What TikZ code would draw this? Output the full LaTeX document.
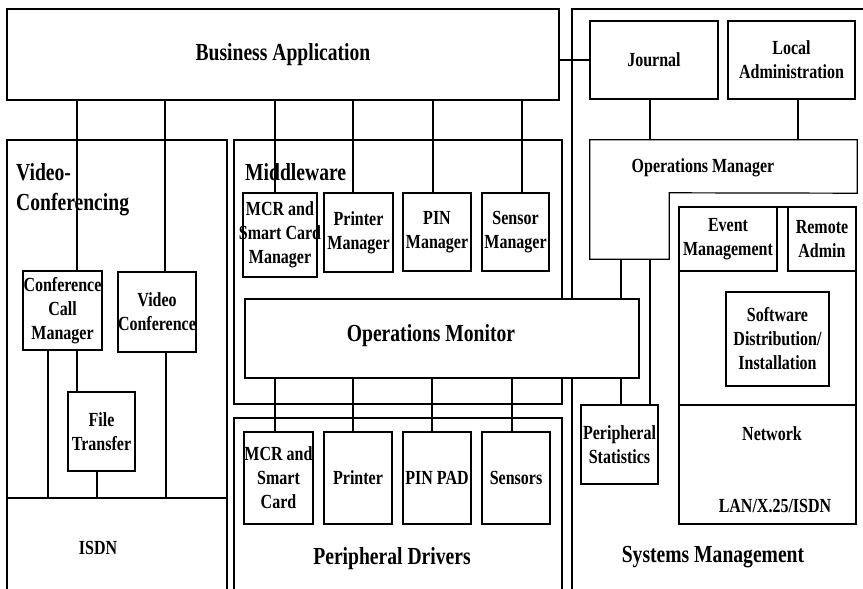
\documentclass[tikz,border=0pt]{standalone}
\usepackage{fontspec}
\newfontfamily\lblfont{Liberation Serif}[FakeStretch=0.8]
\newcommand\txtsm{\lblfont\bfseries\fontsize{20}{24}\selectfont}
\newcommand\txtbig{\lblfont\bfseries\fontsize{24.5}{30}\selectfont}
\tikzset{
  box/.style={draw, line width=1.2pt, fill=white, align=center,
    inner xsep=-5pt, inner ysep=0pt, font=\txtsm},
  frame/.style={line width=1.6pt},
  wire/.style={line width=1.1pt},
  biglbl/.style={font=\txtbig, inner sep=0pt, align=left},
  smlbl/.style={font=\txtsm, inner sep=0pt, align=center},
}
\begin{document}
\begin{tikzpicture}[x=1pt,y=-1pt]
\useasboundingbox (0,0) rectangle (863,589);

% connector lanes
\foreach \n in {48,77,97,165,166,275,353,432,433,512,522,621,650,798}
  \coordinate (x\n) at (\n,0);
\coordinate (netdiv) at (0,405);

% open-bottom outer frames
\draw[frame] (7,589) |- (227,140) -- (227,589);
\draw[frame] (234,589) |- (562,418) -- (562,589);
\draw[frame] (572,589) |- (863,9);

% ---- Business application
\node[box, line width=1.5pt, font=\txtbig, minimum width=552pt, minimum height=91pt] (ba) at (283,54.5) {Business Application};

% ---- Video conferencing
\node[biglbl, anchor=base west] (vclbl) at (16,180) {Video-};
\node[biglbl, anchor=base west] (vclbl2) at (16,210) {Conferencing};
\coordinate (isdnW) at (7,498);
\coordinate (isdnE) at (227,498);
\draw[wire] (isdnW) -- (isdnE);
\node[smlbl] (isdn) at (98,548) {ISDN};
\node[box, minimum width=79pt, minimum height=79pt] (ccm) at (62.5,310.5) {Conference\\Call\\Manager};
\node[box, minimum width=78pt, minimum height=80pt] (vconf) at (157,312) {Video\\Conference};
\node[box, minimum width=67pt, minimum height=79pt] (ftr) at (101.5,431.5) {File\\Transfer};

% ---- Middleware
\node[draw, frame, minimum width=328pt, minimum height=264pt, inner sep=0pt] (mw) at (398,272) {};
\node[biglbl, anchor=base west] (mwlbl) at (245,180) {Middleware};
\node[box, minimum width=74pt, minimum height=84pt] (mcrm) at (280,235) {MCR and\\Smart Card\\Manager};
\node[box, minimum width=69pt, minimum height=79pt] (prm) at (358.5,232.5) {Printer\\Manager};
\node[box, minimum width=68pt, minimum height=78pt] (pinm) at (437,232) {PIN\\Manager};
\node[box, minimum width=67pt, minimum height=78pt] (senm) at (515.5,232) {Sensor\\Manager};

% ---- Peripheral drivers
\node[biglbl] (pdlbl) at (392,559) {Peripheral Drivers};
\node[box, minimum width=69pt, minimum height=92pt] (mcr) at (278.5,478) {MCR and\\Smart\\Card};
\node[box, minimum width=68pt, minimum height=92pt] (prn) at (358,478) {Printer};
\node[box, minimum width=68pt, minimum height=92pt] (pinpad) at (437,478) {PIN PAD};
\node[box, minimum width=68pt, minimum height=92pt] (sens) at (516,478) {Sensors};

% ---- Systems management
\node[box, minimum width=128pt, minimum height=78pt] (jrn) at (654,60) {Journal};
\node[box, minimum width=127pt, minimum height=78pt] (ladm) at (791.5,60) {Local\\Administration};
\node[inner sep=0pt, minimum width=267pt, minimum height=53pt] (omtop) at (723.5,166.5) {};
\node[inner sep=0pt, minimum width=79pt, minimum height=66pt] (omleg) at (629.5,226) {};
\draw[line width=1.2pt] (omtop.north west) -- (omtop.north east) -- (omtop.south east)
  -- (omleg.north east) -- (omleg.south east) -- (omleg.south west) -- cycle;
\node[smlbl] (omlbl) at (703,168) {Operations Manager};
\node[box, minimum width=77pt, minimum height=79pt] (pstat) at (619.5,444.5) {Peripheral\\Statistics};
\node[box, minimum width=177pt, minimum height=317pt] (net) at (767.5,365.5) {};
\node[box, minimum width=98pt, minimum height=64pt] (evm) at (728,239) {Event\\Management};
\node[box, minimum width=68pt, minimum height=64pt] (radm) at (822,239) {Remote\\Admin};
\node[box, minimum width=103pt, minimum height=94pt] (swd) at (777.5,339) {Software\\Distribution/\\Installation};
\draw[line width=1.2pt] (net.west |- netdiv) -- (net.east |- netdiv);
\node[smlbl] (netlbl) at (772,434) {Network};
\node[smlbl] (lanlbl) at (775,506) {LAN/X.25/ISDN};
\node[biglbl] (smlbl) at (713,557) {Systems Management};

% ---- Operations monitor (covers the frame lines it crosses)
\node[box, minimum width=394pt, minimum height=79pt] (opsmon) at (442,338.5) {};
\node[biglbl] (opsmonlbl) at (431,336) {Operations Monitor};

% ---- connectors
\draw[wire] (jrn.west) -- (jrn.west -| ba.east);
\draw[wire] (ba.south -| x77) -- (ccm.north -| x77);
\draw[wire] (ba.south -| x165) -- (vconf.north -| x165);
\draw[wire] (ba.south -| x275) -- (mcrm.north -| x275);
\draw[wire] (ba.south -| x353) -- (prm.north -| x353);
\draw[wire] (ba.south -| x433) -- (pinm.north -| x433);
\draw[wire] (ba.south -| x522) -- (senm.north -| x522);

\draw[wire] (ccm.south -| x48) -- (isdnW -| x48);
\draw[wire] (ccm.south -| x77) -- (ftr.north -| x77);
\draw[wire] (ftr.south -| x97) -- (isdnW -| x97);
\draw[wire] (vconf.south -| x166) -- (isdnW -| x166);

\draw[wire] (opsmon.south -| x275) -- (mcr.north -| x275);
\draw[wire] (opsmon.south -| x353) -- (prn.north -| x353);
\draw[wire] (opsmon.south -| x432) -- (pinpad.north -| x432);
\draw[wire] (opsmon.south -| x512) -- (sens.north -| x512);

\draw[wire] (jrn.south -| x650) -- (omtop.north -| x650);
\draw[wire] (ladm.south -| x798) -- (omtop.north -| x798);
\draw[wire] (omleg.south -| x621) -- (opsmon.north -| x621);
\draw[wire] (opsmon.south -| x621) -- (pstat.north -| x621);
\draw[wire] (omleg.south -| x650) -- (pstat.north -| x650);
\end{tikzpicture}
\end{document}
